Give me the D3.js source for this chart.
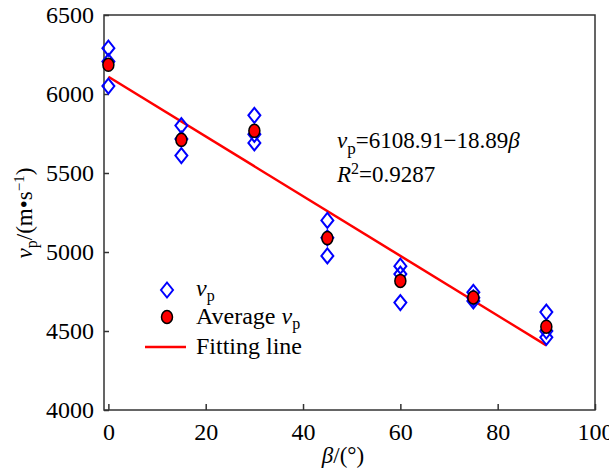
<!DOCTYPE html>
<html>
<head>
<meta charset="utf-8">
<script src="https://cdn.jsdelivr.net/npm/d3@7"></script>
<style>
  body { margin: 0; background: #fff; }
  text { font-family: "Liberation Serif", "Times New Roman", serif; fill: #000; }
</style>
</head>
<body>
<script>
const w = 609;
const h = 472;

// test angles and measured P-wave velocities (three specimens each)
const angles = [0, 15, 30, 45, 60, 75, 90];
const vpRun1 = [6290, 5800, 5865, 5200, 4910, 4745, 4620];
const vpRun2 = [6205, 5715, 5745, 5090, 4860, 4710, 4500];
const vpRun3 = [6050, 5610, 5690, 4975, 4680, 4690, 4460];
const vpAverage = [6185, 5710, 5767, 5088, 4817, 4712, 4527];

// fitted line vp = a + b*beta
const fitIntercept = 6108.91;
const fitSlope = -18.89;
const fitRange = [0, 90];

const xTicks = [0, 20, 40, 60, 80, 100];
const yTicks = [4000, 4500, 5000, 5500, 6000, 6500];

const serif = '"Liberation Serif", "Times New Roman", serif';
const padL = 104, padR = 595, padT = 15, padB = 410;

const svg = d3
  .select("body")
  .append("svg")
  .attr("width", w)
  .attr("height", h);

const xScale = d3.scaleLinear().domain([-0.9, 100]).range([padL, padR]);
const yScale = d3.scaleLinear().domain([4000, 6500]).range([padB, padT]);

const xAxis = d3
  .axisBottom(xScale)
  .tickValues(xTicks)
  .tickFormat(d3.format("d"))
  .tickSizeInner(-6)
  .tickSizeOuter(0)
  .tickPadding(13);
const yAxis = d3
  .axisLeft(yScale)
  .tickValues(yTicks)
  .tickFormat(d3.format("d"))
  .tickSizeInner(-5)
  .tickSizeOuter(0)
  .tickPadding(10);

const gx = svg
  .append("g")
  .attr("transform", "translate(0," + padB + ")")
  .call(xAxis);
const gy = svg
  .append("g")
  .attr("transform", "translate(" + padL + ",0)")
  .call(yAxis);

[gx, gy].forEach(g => {
  g.attr("font-family", serif).attr("font-size", 24);
  g.select(".domain").remove();
  g.selectAll("line").attr("stroke", "#333").attr("stroke-width", 1.5);
  g.selectAll("text").attr("fill", "#000");
});

// frame
svg
  .append("rect")
  .attr("x", padL)
  .attr("y", padT)
  .attr("width", padR - padL)
  .attr("height", padB - padT)
  .attr("fill", "none")
  .attr("stroke", "#333")
  .attr("stroke-width", 1.5);

// fitting line
svg
  .append("line")
  .attr("x1", xScale(fitRange[0]))
  .attr("y1", yScale(fitIntercept + fitSlope * fitRange[0]))
  .attr("x2", xScale(fitRange[1]))
  .attr("y2", yScale(fitIntercept + fitSlope * fitRange[1]))
  .attr("stroke", "#ff0000")
  .attr("stroke-width", 2.5);

function diamond(sel) {
  sel
    .attr("d", "M0,-7.5 L6,0 L0,7.5 L-6,0 Z")
    .attr("fill", "none")
    .attr("stroke", "#0000ff")
    .attr("stroke-width", 2);
}

const measured = [];
[vpRun1, vpRun2, vpRun3].forEach(run => {
  run.forEach((v, i) => measured.push({ beta: angles[i], v: v }));
});

svg
  .selectAll(".vp")
  .data(measured)
  .enter()
  .append("path")
  .attr("class", "vp")
  .attr("transform", d => "translate(" + xScale(d.beta) + "," + yScale(d.v) + ")")
  .call(diamond);

function avgDot(sel) {
  sel
    .attr("rx", 5.5)
    .attr("ry", 6.5)
    .attr("fill", "#ff0000")
    .attr("stroke", "#000")
    .attr("stroke-width", 1.5);
}

svg
  .selectAll(".avg")
  .data(vpAverage)
  .enter()
  .append("ellipse")
  .attr("class", "avg")
  .attr("cx", (d, i) => xScale(angles[i]))
  .attr("cy", d => yScale(d))
  .call(avgDot);

// helper for text with italic v and subscript p
function addVp(t, sub, shift) {
  t.append("tspan").style("font-style", "italic").text("v");
  t.append("tspan").attr("dy", shift).style("font-size", sub).text("p");
}

// equation
const eq1 = svg.append("text").attr("x", 337).attr("y", 148).style("font-size", "23px");
addVp(eq1, "17px", 6);
eq1.append("tspan").attr("dy", -6).text("=6108.91\u221218.89");
eq1.append("tspan").style("font-style", "italic").text("\u03b2");

const eq2 = svg.append("text").attr("x", 337).attr("y", 182).style("font-size", "23px");
eq2.append("tspan").style("font-style", "italic").text("R");
eq2.append("tspan").attr("dy", -8).style("font-size", "16px").text("2");
eq2.append("tspan").attr("dy", 8).text("=0.9287");

// legend
svg
  .append("path")
  .attr("transform", "translate(167,290)")
  .call(diamond);
const l1 = svg.append("text").attr("x", 196).attr("y", 296).style("font-size", "24px");
addVp(l1, "16px", 5);

svg.append("ellipse").attr("cx", 167).attr("cy", 317).call(avgDot);
const l2 = svg.append("text").attr("x", 196).attr("y", 324).style("font-size", "24px");
l2.append("tspan").text("Average ");
addVp(l2, "16px", 5);

svg
  .append("line")
  .attr("x1", 145)
  .attr("x2", 186)
  .attr("y1", 347)
  .attr("y2", 347)
  .attr("stroke", "#ff0000")
  .attr("stroke-width", 2.5);
svg.append("text").attr("x", 196).attr("y", 354).style("font-size", "24px").text("Fitting line");

// axis titles
const xt = svg
  .append("text")
  .attr("x", 343)
  .attr("y", 463)
  .attr("text-anchor", "middle")
  .style("font-size", "23px");
xt.append("tspan").style("font-style", "italic").text("\u03b2");
xt.append("tspan").text("/(\u00b0)");

const yt = svg
  .append("text")
  .attr("transform", "translate(32,213) rotate(-90)")
  .attr("text-anchor", "middle")
  .style("font-size", "23px");
addVp(yt, "16px", 5);
yt.append("tspan").attr("dy", -5).text("/(m\u2022s");
yt.append("tspan").attr("dy", -8).style("font-size", "15px").text("\u22121");
yt.append("tspan").attr("dy", 8).text(")");
</script>
</body>
</html>
